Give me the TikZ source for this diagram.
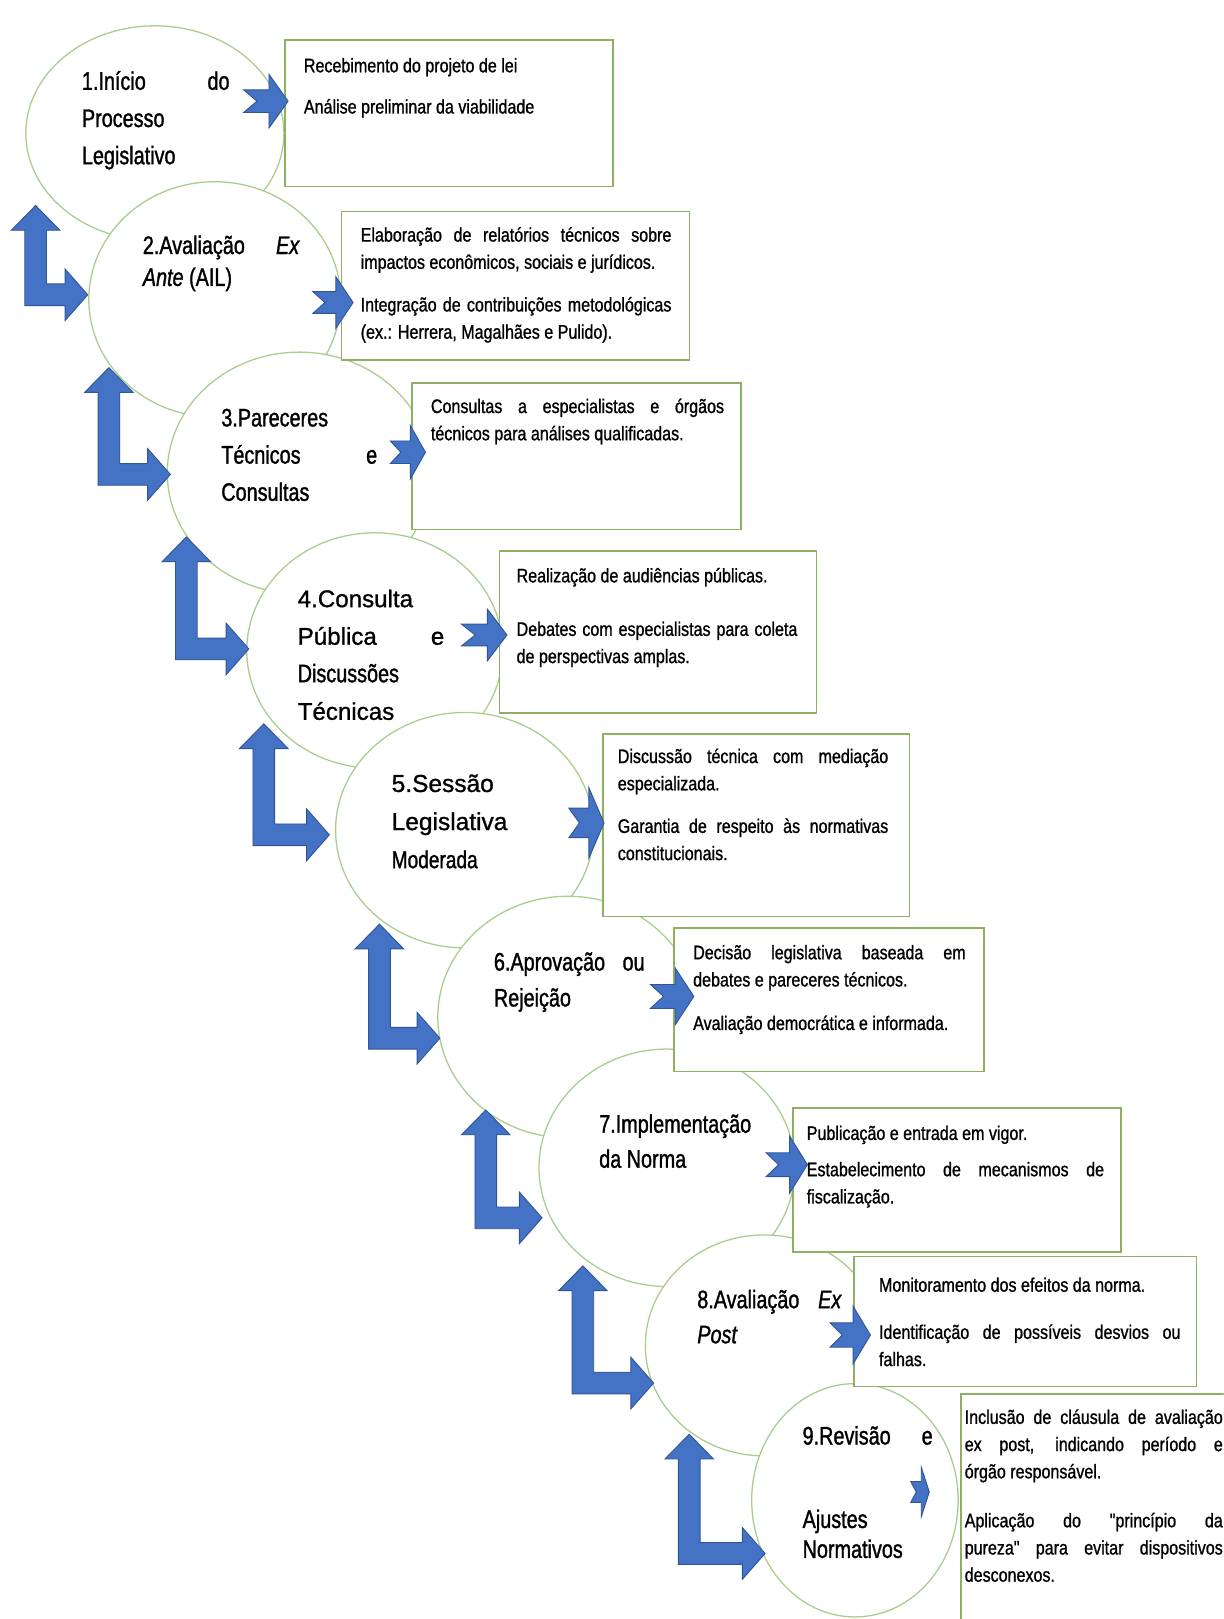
\documentclass[tikz,border=0pt]{standalone}
\usepackage{fontspec}
\setmainfont{Liberation Sans}[FakeBold=1]
\newfontfamily\nar[FakeStretch=0.82,FakeBold=1]{Liberation Sans}
\newfontfamily\cnar[FakeStretch=0.78,FakeBold=1.2]{Liberation Sans}
\usetikzlibrary{shapes.geometric}
\definecolor{arrfill}{HTML}{4472C4}
\definecolor{arrline}{HTML}{2F5597}
\definecolor{circline}{HTML}{A9CD8B}
\definecolor{boxline}{HTML}{8DB062}
\newcommand\J[2]{\makebox[#1][s]{#2}}
\newcommand\boxfont{\nar\fontsize{10.8}{15}\selectfont\raggedright}
\newcommand\cfont{\cnar\fontsize{14}{20.5}\selectfont\raggedright}
% L-shaped double arrow: #1 left x of shaft, #2 up tip y, #3 bottom y, #4 right tip x
\newcommand\Lar[4]{%
\filldraw[arr] (#1,#3) -- (#1,{#2+24}) -- ({#1-13},{#2+24}) -- ({#1+10.5},#2) -- ({#1+34},{#2+24}) -- ({#1+21},{#2+24}) -- ({#1+21},{#3-21}) -- ({#4-22},{#3-21}) -- ({#4-22},{#3-35.5}) -- (#4,{#3-10.5}) -- ({#4-22},{#3+14.5}) -- ({#4-22},#3) -- cycle;}
% notched right arrow: #1 left x, #2 tip x, #3 centre y, #4 height
\newcommand\Nar[4]{%
\filldraw[arr] (#1,{#3-0.21*#4}) -- ({#2-0.43*(#2-#1)},{#3-0.21*#4}) -- ({#2-0.43*(#2-#1)},{#3-0.5*#4}) -- (#2,#3) -- ({#2-0.43*(#2-#1)},{#3+0.5*#4}) -- ({#2-0.43*(#2-#1)},{#3+0.21*#4}) -- (#1,{#3+0.21*#4}) -- ({#1+0.3*(#2-#1)},#3) -- cycle;}
\tikzset{
 circ/.style={ellipse, draw=circline, line width=0.7pt, fill=white, inner sep=0pt},
 boxn/.style={rectangle, draw=boxline, line width=0.9pt, fill=white, inner sep=0pt, anchor=north west},
 txt/.style={anchor=base west, inner sep=0pt},
 arr/.style={fill=arrfill, draw=arrline, line width=0.5pt, line join=miter},
}
\begin{document}
\begin{tikzpicture}[x=0.02cm,y=-0.02cm]
\useasboundingbox[fill=white] (0,0) rectangle (1185,1568);
\begin{scope}
\clip (0,0) rectangle (1185,1568);
% circles (ellipses)
\node[circ, minimum width=5.0cm, minimum height=4.16cm] (c1) at (150,129) {};
\node[circ, minimum width=4.88cm, minimum height=4.56cm] (c2) at (208,290) {};
\node[circ, minimum width=5.12cm, minimum height=4.68cm] (c3) at (290,458) {};
\node[circ, minimum width=4.96cm, minimum height=4.56cm] (c4) at (363,630) {};
\node[circ, minimum width=5.0cm, minimum height=4.56cm] (c5) at (450,804) {};
\node[circ, minimum width=5.04cm, minimum height=4.68cm] (c6) at (550,985) {};
\node[circ, minimum width=4.96cm, minimum height=4.6cm] (c7) at (646,1131) {};
\node[circ, minimum width=4.6cm, minimum height=4.28cm] (c8) at (740,1303) {};
\node[circ, minimum width=4.0cm, minimum height=4.52cm] (c9) at (828,1453) {};
% boxes
\node[boxn, minimum width=6.36cm, minimum height=2.84cm] (b1) at (275,38) {};
\node[boxn, minimum width=6.74cm, minimum height=2.88cm] (b2) at (330,204) {};
\node[boxn, minimum width=6.38cm, minimum height=2.84cm] (b3) at (398,370) {};
\node[boxn, minimum width=6.14cm, minimum height=3.14cm] (b4) at (483,533) {};
\node[boxn, minimum width=5.94cm, minimum height=3.54cm] (b5) at (583,710) {};
\node[boxn, minimum width=6.00cm, minimum height=2.78cm] (b6) at (652,898) {};
\node[boxn, minimum width=6.36cm, minimum height=2.80cm] (b7) at (767,1072) {};
\node[boxn, minimum width=6.64cm, minimum height=2.52cm] (b8) at (826,1216) {};
\node[boxn, minimum width=6.00cm, minimum height=6.00cm] (b9) at (930,1349) {};
\end{scope}
% notched arrows
\Nar{236}{279}{98}{52}
\Nar{303}{342}{293}{50}
\Nar{378}{412}{438}{52}
\Nar{447}{491}{615}{50}
\Nar{551}{585}{797}{68}
\Nar{630}{672}{965}{55}
\Nar{742}{782}{1128}{55}
\Nar{804}{843}{1293}{56}
\Nar{882}{900}{1445}{48}
% L arrows
\Lar{24}{199}{296}{85}
\Lar{95}{356}{470}{165}
\Lar{170}{520}{639}{241}
\Lar{245}{701}{819}{319}
\Lar{357}{895}{1016}{426}
\Lar{460}{1075}{1190}{525}
\Lar{554}{1226}{1350}{633}
\Lar{657}{1389}{1515}{741}
% circle texts
\node[txt] (ct1) at (79,87) {\parbox[t]{3cm}{\cfont\J{2.86cm}{1.Início do}\\ Processo\\ Legislativo}};
\node[txt] (ct2) at (138,246) {\parbox[t]{3.2cm}{\cnar\fontsize{14}{17.6}\selectfont\raggedright\J{3.04cm}{2.Avaliação \textit{Ex}}\\ \textit{Ante} (AIL)}};
\node[txt] (ct3) at (214,413) {\parbox[t]{3.2cm}{\cfont 3.Pareceres\\ \J{3.02cm}{Técnicos e}\\ Consultas}};
\node[txt] (ct4) at (288,588) {\parbox[t]{3cm}{\fontsize{13.3}{20.7}\selectfont\raggedright 4.Consulta\\ \J{2.84cm}{Pública e}\\ {\cnar\fontsize{14}{20.7}\selectfont Discussões}\\ Técnicas}};
\node[txt] (ct5) at (379,767) {\parbox[t]{4cm}{\fontsize{13.5}{21}\selectfont\raggedright 5.Sessão\\ Legislativa\\ {\cnar\fontsize{13.5}{20.5}\selectfont Moderada}}};
\node[txt] (ct6) at (478,940) {\parbox[t]{3.1cm}{\cnar\fontsize{14}{19.8}\selectfont\raggedright\J{2.92cm}{6.Aprovação ou}\\ Rejeição}};
\node[txt] (ct7) at (580,1097) {\parbox[t]{3.4cm}{\cnar\fontsize{14}{19.3}\selectfont\raggedright 7.Implementação\\ da Norma}};
\node[txt] (ct8) at (675,1267) {\parbox[t]{3cm}{\cnar\fontsize{14}{19.3}\selectfont\raggedright\J{2.8cm}{8.Avaliação \textit{Ex}}\\ \textit{Post}}};
\node[txt] (ct9) at (777,1399) {\parbox[t]{3cm}{\cnar\fontsize{14}{16.5}\selectfont\raggedright\J{2.52cm}{9.Revisão e}\\[29.5pt] Ajustes\\ Normativos}};
% box texts
\node[txt] (bt1) at (294,70) {\parbox[t]{6cm}{\boxfont Recebimento do projeto de lei\\[7.7pt] Análise preliminar da viabilidade}};
\node[txt] (bt2) at (349,234) {\parbox[t]{6.1cm}{\boxfont\J{6.02cm}{Elaboração de relatórios técnicos sobre}\\ impactos econômicos, sociais e jurídicos.\\[8.5pt] \J{6.02cm}{Integração de contribuições metodológicas}\\ (ex.: Herrera, Magalhães e Pulido).}};
\node[txt] (bt3) at (417,400) {\parbox[t]{5.8cm}{\boxfont\J{5.68cm}{Consultas a especialistas e órgãos}\\ técnicos para análises qualificadas.}};
\node[txt] (bt4) at (500,564) {\parbox[t]{5.6cm}{\boxfont Realização de audiências públicas.\\[14.5pt] \J{5.44cm}{Debates com especialistas para coleta}\\ de perspectivas amplas.}};
\node[txt] (bt5) at (598,739) {\parbox[t]{5.4cm}{\boxfont\J{5.24cm}{Discussão técnica com mediação}\\ especializada.\\[8.5pt] \J{5.24cm}{Garantia de respeito às normativas}\\ constitucionais.}};
\node[txt] (bt6) at (671,929) {\parbox[t]{5.4cm}{\boxfont\J{5.28cm}{Decisão legislativa baseada em}\\ debates e pareceres técnicos.\\[9pt] Avaliação democrática e informada.}};
\node[txt] (bt7) at (781,1104) {\parbox[t]{5.9cm}{\boxfont Publicação e entrada em vigor.\\[5pt] \J{5.76cm}{Estabelecimento de mecanismos de}\\ fiscalização.}};
\node[txt] (bt8) at (851,1251) {\parbox[t]{6cm}{\boxfont Monitoramento dos efeitos da norma.\\[11pt] \J{5.84cm}{Identificação de possíveis desvios ou}\\ falhas.}};
\node[txt] (bt9) at (934,1379) {\parbox[t]{5.1cm}{\boxfont\J{5.0cm}{Inclusão de cláusula de avaliação}\\ \J{5.0cm}{ex post, indicando período e}\\ órgão responsável.\\[12pt] \J{5.0cm}{Aplicação do "princípio da}\\ \J{5.0cm}{pureza" para evitar dispositivos}\\ desconexos.}};
\end{tikzpicture}
\end{document}
